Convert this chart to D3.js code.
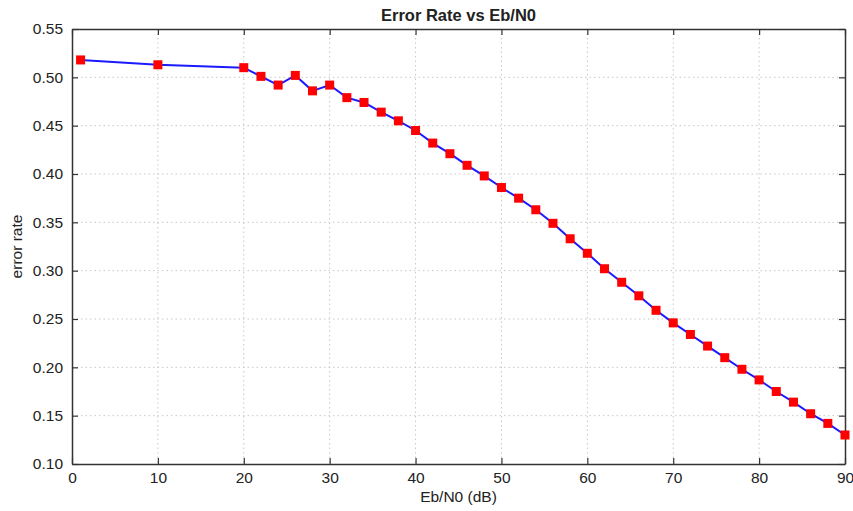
<!DOCTYPE html>
<html>
<head>
<meta charset="utf-8">
<script src="https://cdn.jsdelivr.net/npm/d3@7"></script>
<style>
  body { margin: 0; background: #fff; }
  text { font-family: "Liberation Sans", Arial, sans-serif; fill: #222; }
</style>
</head>
<body>
<div id="chart"></div>
<script>
const ebn0 = [1, 10, 20, 22, 24, 26, 28, 30, 32, 34, 36, 38, 40, 42, 44, 46, 48, 50, 52, 54, 56, 58, 60,
  62, 64, 66, 68, 70, 72, 74, 76, 78, 80, 82, 84, 86, 88, 90];
const errorRate = [0.518, 0.513, 0.510, 0.501, 0.492, 0.502, 0.486, 0.492, 0.479, 0.474, 0.464, 0.455, 0.445,
  0.432, 0.421, 0.409, 0.398, 0.386, 0.375, 0.363, 0.349, 0.333, 0.318,
  0.302, 0.288, 0.274, 0.259, 0.246, 0.234, 0.222, 0.210, 0.198, 0.187, 0.175, 0.164, 0.152, 0.142, 0.130];
const xTicks = [0, 10, 20, 30, 40, 50, 60, 70, 80, 90];
const yTicks = [0.10, 0.15, 0.20, 0.25, 0.30, 0.35, 0.40, 0.45, 0.50, 0.55];

const width = 853;
const height = 511;
const margin = { top: 29, right: 8, bottom: 47, left: 72 };
const chartWidth = width - margin.left - margin.right;
const chartHeight = height - margin.top - margin.bottom;

const svg = d3.select('#chart').append('svg').attr('width', width).attr('height', height);

const x = d3.scaleLinear().domain([0, 90]).range([0, chartWidth]);
const y = d3.scaleLinear().domain([0.10, 0.55]).range([chartHeight, 0]);

const chart = svg.append('g').attr('transform', `translate(${margin.left}, ${margin.top})`);

// dotted grid
chart.append('g')
  .selectAll('line')
  .data(xTicks.slice(1, -1))
  .join('line')
  .attr('x1', (d) => x(d)).attr('x2', (d) => x(d))
  .attr('y1', 0).attr('y2', chartHeight)
  .attr('stroke', '#c8c8c8').attr('stroke-dasharray', '1.5,3');

chart.append('g')
  .selectAll('line')
  .data(yTicks.slice(1, -1))
  .join('line')
  .attr('y1', (d) => y(d)).attr('y2', (d) => y(d))
  .attr('x1', 0).attr('x2', chartWidth)
  .attr('stroke', '#c8c8c8').attr('stroke-dasharray', '1.5,3');

// axes with inward ticks
const styleAxis = (g) => {
  g.select('.domain').attr('stroke', '#333').attr('stroke-width', 1.5);
  g.selectAll('.tick line').attr('stroke', '#333').attr('stroke-width', 1.2);
  g.selectAll('.tick text').attr('font-size', 15.5).attr('fill', '#222');
};

chart.append('g')
  .attr('transform', `translate(0, ${chartHeight})`)
  .call(d3.axisBottom(x).tickValues(xTicks).tickSizeInner(-6).tickSizeOuter(0).tickPadding(8))
  .call(styleAxis);

chart.append('g')
  .call(d3.axisLeft(y).tickValues(yTicks).tickFormat(d3.format('.2f')).tickSizeInner(-6).tickSizeOuter(0).tickPadding(9))
  .call(styleAxis);

chart.append('g')
  .call(d3.axisTop(x).tickValues(xTicks).tickFormat('').tickSizeInner(-6).tickSizeOuter(0))
  .call(styleAxis);

chart.append('g')
  .attr('transform', `translate(${chartWidth}, 0)`)
  .call(d3.axisRight(y).tickValues(yTicks).tickFormat('').tickSizeInner(-6).tickSizeOuter(0))
  .call(styleAxis);

// series
const line = d3.line().x((d, i) => x(ebn0[i])).y((d) => y(d));

chart.append('path')
  .datum(errorRate)
  .attr('fill', 'none')
  .attr('stroke', '#1a1aff')
  .attr('stroke-width', 2)
  .attr('d', line);

const sq = 9;
chart.selectAll('.pt')
  .data(errorRate)
  .join('rect')
  .attr('class', 'pt')
  .attr('x', (d, i) => x(ebn0[i]) - sq / 2)
  .attr('y', (d) => y(d) - sq / 2)
  .attr('width', sq)
  .attr('height', sq)
  .attr('fill', '#ff0000');

// labels
svg.append('text')
  .attr('x', margin.left + chartWidth / 2)
  .attr('y', 21)
  .attr('text-anchor', 'middle')
  .attr('font-size', 16.5)
  .attr('font-weight', 'bold')
  .text('Error Rate vs Eb/N0');

svg.append('text')
  .attr('x', margin.left + chartWidth / 2)
  .attr('y', 502)
  .attr('text-anchor', 'middle')
  .attr('font-size', 15.5)
  .text('Eb/N0 (dB)');

svg.append('text')
  .attr('transform', `translate(22, ${margin.top + chartHeight / 2}) rotate(-90)`)
  .attr('text-anchor', 'middle')
  .attr('font-size', 15.5)
  .text('error rate');
</script>
</body>
</html>
